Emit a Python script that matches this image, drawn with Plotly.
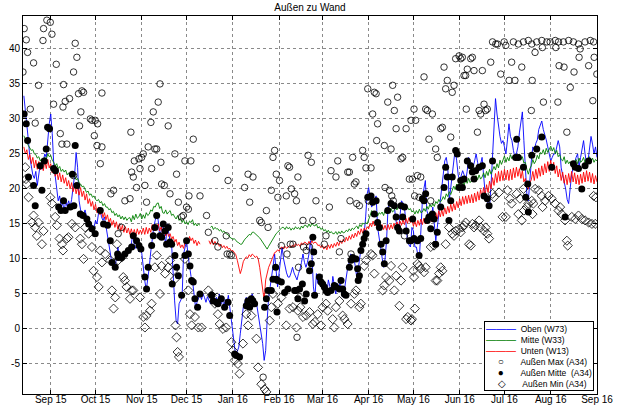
import pandas as pd
import plotly.graph_objects as go

# ---------------- data ----------------
BASE = pd.Timestamp("2015-09-01")          # day offsets below are relative to this date
LINE_START = "2015-08-14"                  # first daily value of the wall sensors (day -18)

# Oben (W73), daily values from 2015-08-14 to 2016-09-01
oben = [
    33.3, 31.5, 29.0, 27.0, 24.5, 23.0, 22.0, 21.5, 22.5, 20.5,
    22.0, 23.6, 22.8, 24.0, 25.0, 24.5, 27.0, 29.3, 30.7, 27.9,
    23.6, 21.5, 20.2, 18.3, 19.0, 17.4, 18.0, 16.8, 18.3, 17.5,
    18.3, 17.4, 18.5, 20.2, 22.0, 25.2, 23.1, 18.3, 17.0, 16.4,
    16.4, 17.0, 16.0, 15.8, 15.5, 15.0, 14.8, 14.5, 15.5, 15.0,
    16.5, 17.4, 16.0, 15.5, 16.0, 14.5, 13.6, 12.0, 10.7, 9.3,
    9.0, 8.8, 10.0, 11.7, 10.2, 10.7, 10.0, 10.5, 11.0, 10.5,
    11.0, 11.5, 12.1, 13.6, 12.0, 11.5, 12.2, 11.0, 11.5, 10.8,
    8.5, 6.9, 5.5, 7.0, 8.8, 11.0, 13.1, 14.5, 15.5, 16.4,
    15.5, 13.3, 14.0, 15.2, 13.5, 12.1, 15.0, 13.5, 12.6, 12.0,
    6.9, 4.0, 1.2, 0.7, 3.6, 4.0, 4.5, 10.7, 11.5, 12.6,
    10.5, 8.8, 7.5, 6.9, 5.0, 3.1, 3.8, 4.5, 5.0, 4.2,
    5.0, 4.5, 3.8, 4.6, 4.0, 3.6, 4.8, 4.0, 3.6, 4.5,
    4.0, 5.0, 3.5, 4.5, 3.0, 4.2, 3.5, 4.8, 3.0, 1.2,
    -0.5, -2.6, -4.0, -3.2, -2.6, -0.7, 1.5, 3.1, 3.8, 4.5,
    3.5, 3.6, 4.5, 5.0, 4.2, 4.0, 3.5, 2.1, 0.5, -1.0,
    -2.1, -4.5, -3.1, 1.2, 4.5, 6.0, 7.9, 9.0, 10.7, 8.8,
    6.0, 8.0, 10.2, 11.7, 10.0, 8.8, 8.0, 7.4, 7.4, 8.0,
    8.8, 8.0, 7.4, 7.0, 7.9, 8.5, 9.5, 10.7, 9.5, 8.8,
    9.5, 10.7, 12.6, 10.7, 6.0, 4.5, 7.9, 6.5, 6.9, 6.0,
    7.0, 5.5, 6.5, 5.0, 7.0, 6.0, 5.2, 7.5, 6.0, 5.0,
    6.5, 5.5, 7.0, 4.8, 4.5, 6.0, 7.5, 8.8, 9.5, 10.7,
    10.5, 10.2, 9.0, 7.4, 8.5, 10.5, 11.7, 12.5, 13.6, 16.0,
    19.3, 20.2, 18.5, 17.4, 17.8, 18.5, 19.0, 14.5, 13.0, 11.7,
    10.5, 8.8, 10.0, 12.6, 17.4, 18.0, 18.3, 18.0, 17.9, 16.0,
    14.5, 14.0, 16.0, 18.3, 18.0, 17.4, 15.0, 12.6, 12.0, 11.7,
    14.5, 14.0, 11.7, 11.7, 10.5, 10.2, 14.0, 18.3, 20.0, 21.2,
    16.9, 16.0, 15.5, 15.8, 17.4, 15.0, 12.6, 14.5, 16.4, 18.0,
    20.2, 22.0, 24.0, 24.5, 23.1, 18.3, 20.0, 22.1, 24.0, 25.7,
    24.0, 22.0, 21.2, 22.0, 22.6, 22.0, 21.2, 22.5, 24.5, 24.0,
    23.5, 23.1, 24.0, 25.0, 23.8, 22.6, 23.5, 24.5, 22.0, 19.5,
    18.5, 17.8, 17.4, 20.5, 24.5, 29.0, 32.9, 30.7, 28.8, 27.5,
    26.5, 26.9, 26.0, 25.0, 27.0, 29.3, 27.5, 26.9, 25.5, 24.5,
    25.0, 26.0, 28.0, 30.0, 31.0, 26.9, 23.6, 19.3, 18.3, 22.1,
    24.0, 26.0, 25.5, 26.5, 27.0, 28.5, 29.3, 29.7, 28.5, 27.9,
    27.0, 26.0, 25.0, 24.0, 24.5, 25.0, 25.0, 26.0, 26.9, 26.0,
    23.0, 22.0, 21.2, 20.0, 18.5, 17.9, 20.0, 22.1, 23.0, 24.0,
    24.5, 25.0, 23.1, 24.5, 25.5, 26.9, 25.0, 23.6, 24.0, 26.0,
    27.5, 26.4, 25.0, 26.0, 24.5,
]

# Mitte (W33), daily values
mitte = [
    27.6, 27.0, 26.6, 26.2, 25.9, 25.5, 25.6, 25.0, 24.9, 24.4,
    24.6, 24.0, 24.3, 23.9, 24.5, 24.2, 25.0, 24.6, 24.8, 24.1,
    23.8, 23.3, 23.6, 22.9, 23.2, 22.5, 22.8, 22.4, 22.7, 22.0,
    22.3, 21.8, 22.2, 21.7, 21.9, 21.3, 21.5, 20.9, 20.7, 20.3,
    20.4, 19.8, 19.5, 19.7, 19.1, 19.3, 18.8, 19.0, 18.5, 18.3,
    18.5, 18.0, 18.2, 17.6, 17.9, 17.4, 17.4, 17.0, 17.2, 16.6,
    16.8, 16.2, 16.5, 16.0, 16.3, 15.7, 16.1, 15.6, 16.0, 15.5,
    15.8, 15.9, 15.3, 16.2, 15.6, 16.4, 15.8, 16.0, 16.5, 15.7,
    16.3, 15.8, 16.6, 16.2, 16.4, 17.0, 16.8, 17.5, 17.4, 17.9,
    18.0, 17.2, 17.5, 16.6, 16.5, 17.0, 16.4, 16.7, 16.9, 16.2,
    16.4, 16.0, 15.7, 16.2, 15.5, 15.8, 15.2, 15.6, 15.0, 15.3,
    14.9, 15.4, 15.2, 15.6, 14.8, 15.1, 14.7, 15.0, 14.8, None,
    None, None, None, None, None, 14.5, 14.7, 14.2, 14.5, 14.3,
    14.3, 14.0, 14.2, 13.8, 14.0, 13.7, 13.6, 13.4, 13.1, 13.0,
    12.8, 12.9, 12.6, 12.4, 12.3, 12.1, 12.1, 12.5, 12.8, 13.0,
    13.2, 13.5, 13.4, 13.8, 13.8, 13.6, 13.5, 13.3, 13.0, 12.7,
    12.4, 12.1, 11.8, 11.4, 11.8, 12.2, 12.6, 13.0, 13.4, 13.6,
    13.8, 14.0, 14.3, 14.5, 14.5, 14.2, 14.6, 14.3, 14.5, 14.1,
    14.4, 14.2, 14.6, 14.3, 14.5, 14.2, 14.7, 14.4, 14.8, 14.8,
    14.5, 15.0, 14.6, 15.1, 14.8, 14.7, 15.0, 14.4, 14.6, 14.2,
    14.4, 14.0, 14.2, 13.8, 14.1, 13.7, 13.9, 13.6, 13.6, 13.9,
    13.5, 13.9, 13.6, 14.0, 13.7, 13.8, 14.1, 13.9, 14.3, 14.0,
    14.4, 14.2, 14.5, 14.7, 14.3, 14.9, 14.6, 15.1, 15.0, 15.2,
    15.0, 15.5, 16.2, 16.9, 16.5, 16.4, 16.8, 16.1, 16.6, 16.4,
    16.7, 16.2, 16.9, 16.5, 16.9, 16.6, 17.2, 16.7, 16.9, 17.3,
    17.0, 17.6, 17.6, 17.2, 17.8, 17.3, 17.7, 17.4, 17.0, 17.2,
    16.7, 16.9, 16.4, 16.9, 16.5, 17.1, 16.6, 16.7, 17.2, 16.8,
    17.5, 17.1, 17.8, 17.4, 17.9, 17.5, 18.2, 17.9, 18.5, 18.1,
    18.4, 18.9, 18.5, 19.3, 18.9, 19.6, 19.2, 19.8, 20.4, 19.9,
    20.7, 20.3, 21.1, 20.6, 21.0, 20.5, 21.4, 20.8, 21.5, 20.9,
    21.2, 21.8, 21.0, 21.9, 21.3, 22.0, 21.4, 21.7, 22.3, 21.6,
    22.5, 21.9, 22.8, 22.1, 22.6, 23.2, 22.7, 23.6, 23.0, 24.1,
    23.5, 24.0, 24.7, 23.8, 24.5, 24.0, 24.9, 24.3, 24.8, 24.1,
    24.9, 24.5, 25.0, 24.2, 24.6, 23.7, 23.8, 22.8, 22.1, 22.9,
    23.3, 24.2, 23.6, 24.0, 24.8, 24.3, 25.2, 25.0, 25.6, 24.9,
    25.8, 25.2, 25.7, 26.1, 25.4, 25.9, 25.0, 25.5, 24.6, 24.9,
    24.2, 24.0, 24.6, 23.6, 24.1, 23.6, 23.9, 23.2, 23.8, 23.6,
    24.2, 23.6, 24.4, 23.8, 24.0, 24.5, 23.7, 24.3, 24.0, 24.6,
    23.9, 24.4, 23.8, 24.2, 24.0,
]

# Unten (W13), daily values
unten = [
    26.0, 25.0, 25.6, 24.2, 24.9, 23.6, 24.5, 23.0, 24.1, 22.8,
    23.9, 22.7, 23.8, 22.6, 24.0, 22.9, 24.2, 23.0, 23.6, 22.3,
    23.1, 21.8, 22.6, 21.3, 22.3, 21.0, 22.0, 20.8, 21.6, 20.4,
    21.2, 20.0, 20.9, 19.6, 20.6, 19.3, 20.3, 19.1, 20.2, 18.9,
    19.7, 18.4, 19.3, 17.9, 18.6, 17.5, 18.2, 17.0, 17.8, 16.6,
    17.4, 16.3, 17.0, 15.9, 16.6, 15.6, 16.3, 15.2, 15.8, 14.8,
    15.5, 14.5, 15.3, 14.2, 15.0, 14.0, 14.8, 13.8, 14.6, 13.7,
    14.4, 13.5, 14.3, 13.4, 14.2, 13.3, 14.3, 13.5, 14.1, 13.6,
    14.4, 13.5, 14.5, 13.6, 14.4, 13.8, 14.9, 14.0, 14.8, 14.1,
    15.0, 14.0, 14.6, 13.6, 14.2, 13.3, 14.0, 13.2, 13.6, 12.8,
    13.2, 12.4, 12.8, 11.9, 12.4, 11.6, 12.0, 11.5, 12.4, 12.6,
    12.3, 13.2, 12.6, 13.0, 12.2, 12.7, 11.9, 12.5, 12.1, None,
    None, None, None, None, 12.6, 12.1, 12.8, 12.0, 12.5, 12.1,
    12.3, 11.8, 12.1, 11.6, 11.9, 11.5, 11.8, 11.4, 11.5, 11.1,
    11.2, 10.9, 10.6, 9.8, 8.8, 7.9, 8.6, 9.6, 10.0, 10.3,
    10.1, 10.6, 10.3, 10.7, 10.5, 10.2, 10.4, 10.0, 8.8, 7.0,
    5.6, 4.1, 7.0, 8.2, 8.8, 9.3, 9.9, 10.5, 10.9, 11.0,
    11.3, 11.1, 11.6, 11.7, 11.4, 11.8, 11.5, 11.7, 11.9, 11.6,
    12.0, 11.7, 12.2, 11.9, 12.1, 11.8, 12.3, 12.0, 12.4, 12.3,
    12.0, 12.5, 12.1, 12.6, 12.2, 12.4, 12.3, 11.9, 12.0, 11.6,
    11.9, 11.4, 11.8, 11.3, 12.0, 11.5, 12.1, 11.6, 12.2, 11.8,
    12.4, 11.9, 12.6, 12.2, 12.8, 12.4, 13.1, 12.6, 13.3, 12.8,
    13.5, 13.0, 13.7, 13.2, 14.0, 13.5, 14.3, 13.7, 14.4, 14.0,
    14.6, 14.3, 15.1, 14.6, 15.4, 14.7, 15.2, 14.4, 15.0, 14.3,
    14.9, 14.2, 14.8, 14.1, 14.9, 14.2, 14.9, 14.3, 15.1, 14.5,
    15.3, 14.6, 15.4, 14.8, 15.6, 14.9, 15.8, 15.1, 15.9, 15.2,
    15.6, 14.7, 15.4, 14.6, 15.5, 14.8, 15.7, 14.9, 15.8, 15.0,
    16.0, 15.1, 16.1, 15.3, 16.3, 15.4, 16.6, 15.7, 16.9, 16.0,
    17.0, 16.1, 17.3, 16.4, 17.5, 16.6, 17.8, 16.8, 17.9, 17.0,
    18.2, 17.3, 18.6, 17.6, 18.9, 17.8, 19.0, 17.9, 19.1, 18.0,
    19.2, 18.0, 19.4, 18.2, 19.6, 18.4, 19.9, 18.7, 20.2, 19.0,
    20.6, 19.5, 21.1, 20.0, 21.6, 20.5, 22.2, 20.9, 22.5, 21.1,
    22.6, 21.2, 22.8, 21.3, 22.7, 21.2, 22.8, 21.3, 23.0, 21.6,
    23.1, 21.8, 22.9, 21.5, 22.6, 21.0, 21.5, 20.2, 20.0, 20.9,
    21.3, 22.5, 21.2, 22.8, 21.5, 23.0, 21.8, 23.3, 22.0, 23.6,
    22.3, 23.9, 22.5, 24.1, 22.6, 23.8, 22.2, 23.3, 21.7, 22.8,
    21.2, 22.4, 20.8, 22.0, 20.6, 22.2, 20.9, 22.5, 21.0, 22.3,
    20.7, 22.0, 20.6, 22.1, 20.8, 22.4, 21.0, 22.6, 21.1, 22.4,
    20.9, 22.2, 20.7, 21.9, 21.0,
]

# Außen Max (A34): (day offset from 2015-09-01, value)
aussen_max = [
    (-18.6, 36.7), (-17.8, 42.9), (-16.4, 41.3), (-15.5, 39.5), (-13.7, 31.4),
    (-11.5, 38.0), (-10.4, 29.4), (-8.2, 34.8), (-5.2, 41.2), (-4.8, 42.9),
    (-2.6, 44.1), (-0.3, 43.8), (0.8, 42.1), (1.9, 32.1), (3.7, 37.8),
    (6.4, 27.9), (7.5, 26.4), (8.2, 31.7), (8.6, 34.9), (9.7, 32.5),
    (10.8, 26.4), (12.6, 32.9), (15.3, 36.7), (15.3, 21.9), (16.4, 40.8),
    (17.5, 38.8), (18.6, 33.6), (19.3, 29.0), (20.2, 31.0), (20.9, 34.0),
    (22.0, 33.8), (26.5, 30.0), (27.6, 29.8), (29.2, 27.6), (29.8, 29.8),
    (31.0, 26.2), (31.4, 29.3), (33.2, 23.6), (34.3, 26.0), (34.3, 33.7),
    (40.3, 19.3), (42.1, 19.8), (45.2, 13.6), (47.5, 14.5), (49.7, 18.3),
    (53.1, 18.6), (53.7, 28.1), (54.2, 22.4), (55.3, 21.7), (56.0, 24.0),
    (57.5, 20.2), (59.1, 24.3), (59.8, 22.9), (60.9, 24.5), (62.0, 25.0),
    (63.1, 20.5), (64.2, 18.1), (65.3, 26.0), (67.1, 29.5), (67.6, 22.9),
    (68.7, 31.0), (69.8, 25.7), (71.0, 25.7), (72.0, 32.4), (73.2, 35.0),
    (73.8, 23.8), (74.3, 20.7), (76.1, 20.5), (78.7, 29.0), (79.9, 19.3),
    (83.2, 25.0), (84.3, 22.1), (85.5, 18.1), (87.7, 16.0), (88.8, 16.2),
    (89.9, 24.0), (91.0, 17.4), (92.2, 17.1), (92.6, 19.0), (93.9, 24.0),
    (95.5, 27.1), (100.0, 19.0), (104.4, 16.2), (105.6, 13.8), (110.0, 12.6),
    (110.9, 22.9), (112.0, 11.7), (117.6, 13.3), (118.2, 10.7), (118.8, 21.2),
    (119.9, 10.7), (121.0, 10.5), (129.9, 20.2), (132.2, 22.1), (133.3, 18.1),
    (135.5, 21.7), (140.0, 15.5), (141.1, 15.2), (142.3, -6.9), (144.5, 16.9),
    (145.6, 14.5), (147.8, 19.8), (148.9, 24.5), (150.0, 25.5), (151.1, 22.1),
    (152.2, 18.8), (153.3, 21.2), (154.5, 11.9), (157.8, 19.0), (158.3, 10.7),
    (158.9, 23.3), (160.0, 23.1), (160.5, 12.1), (161.2, 20.0), (162.3, 12.1),
    (163.4, 19.3), (164.6, 18.3), (165.0, -1.2), (165.6, 21.7), (166.0, 8.8),
    (169.0, 15.5), (169.4, 11.7), (171.2, 11.2), (172.4, 24.8), (173.4, 11.7),
    (174.6, 23.8), (175.6, 15.5), (177.7, 18.3), (183.3, 12.1), (184.4, 13.3),
    (186.7, 17.4), (187.8, 22.6), (191.1, 21.7), (192.3, 24.0), (193.4, 11.0),
    (194.5, 12.9), (199.0, 22.4), (200.1, 22.4), (200.5, 18.3), (201.2, 10.7),
    (202.3, 24.5), (203.4, 20.7), (204.5, 21.0), (205.0, 17.9), (206.8, 17.6),
    (209.0, 25.5), (210.0, 24.5), (211.2, 23.0), (212.4, 34.3), (212.8, 18.3),
    (214.6, 23.0), (215.7, 30.7), (216.8, 33.8), (218.0, 33.6), (218.4, 26.9),
    (219.0, 29.3), (223.5, 26.2), (224.0, 20.2), (225.8, 32.4), (226.9, 19.8),
    (228.0, 25.7), (228.5, 19.0), (229.1, 34.8), (229.5, 18.3), (230.2, 31.2),
    (231.4, 28.6), (232.4, 33.1), (234.7, 24.3), (235.8, 24.5), (237.0, 13.3),
    (238.1, 28.6), (240.3, 21.4), (241.4, 29.8), (242.3, 21.4), (243.4, 31.4),
    (243.8, 19.0), (244.5, 29.8), (245.7, 21.9), (246.8, 18.8), (247.9, 21.7),
    (250.1, 36.0), (251.2, 31.4), (252.3, 31.2), (253.4, 27.1), (254.6, 18.3),
    (255.7, 30.7), (257.9, 25.7), (259.0, 24.5), (261.3, 28.6), (262.4, 28.8),
    (263.5, 37.4), (264.6, 34.3), (265.7, 35.5), (268.0, 27.4), (269.0, 33.8),
    (270.2, 34.8), (271.3, 38.6), (273.6, 39.0), (274.7, 38.6), (275.8, 38.8),
    (276.9, 36.2), (278.0, 36.2), (278.4, 31.4), (279.1, 37.1), (281.4, 38.6),
    (282.5, 38.8), (283.6, 36.9), (285.9, 28.1), (287.0, 31.2), (288.1, 30.7),
    (289.2, 36.9), (290.3, 32.1), (291.4, 31.2), (292.5, 31.4), (294.8, 38.1),
    (296.0, 41.0), (298.2, 40.7), (299.3, 40.7), (301.5, 36.4), (303.8, 41.0),
    (304.9, 40.5), (307.1, 35.5), (308.8, 38.1), (310.0, 41.0), (311.0, 35.5),
    (313.3, 40.7), (315.6, 37.4), (316.7, 41.0), (320.0, 41.2), (322.0, 31.2),
    (322.3, 40.7), (322.6, 35.5), (324.5, 39.5), (325.6, 41.0), (329.0, 41.2),
    (329.4, 40.2), (330.1, 32.4), (332.4, 41.0), (334.6, 41.0), (338.0, 41.2),
    (338.4, 40.2), (339.8, 32.4), (340.2, 41.0), (340.6, 37.6), (343.5, 41.0),
    (343.9, 37.4), (345.8, 28.1), (347.0, 41.2), (348.1, 34.5), (350.2, 41.0),
    (350.6, 36.7), (353.6, 40.7), (354.0, 38.8), (354.7, 40.0), (358.0, 41.0),
    (360.4, 37.6), (361.5, 41.2), (363.2, 32.6), (363.7, 41.0), (364.1, 38.8),
    (365.9, 36.4),
]

# Außen Mitte (A34)
aussen_mitte = [
    (-17.8, 30.7), (-16.4, 29.3), (-15.5, 26.9), (-14.9, 21.7), (-11.5, 20.5),
    (-10.4, 17.6), (-7.0, 23.3), (-5.9, 19.8), (-4.3, 24.0), (-3.0, 25.7),
    (-2.1, 28.8), (-0.8, 28.6), (1.9, 22.9), (3.2, 22.6), (5.3, 17.4),
    (6.8, 16.9), (8.6, 18.3), (9.7, 16.9), (13.1, 17.4), (14.5, 22.1),
    (15.5, 17.6), (16.4, 26.2), (17.5, 20.5), (19.8, 16.4), (21.6, 16.2),
    (24.2, 15.7), (25.4, 15.0), (27.6, 14.3), (29.8, 13.6), (33.2, 16.9),
    (35.4, 15.0), (38.1, 14.8), (39.9, 12.6), (41.0, 9.5), (43.2, 8.8),
    (44.8, 10.7), (45.2, 10.2), (47.5, 10.2), (49.7, 10.7), (52.0, 11.2),
    (54.2, 11.7), (55.3, 13.3), (57.5, 12.6), (59.1, 11.9), (60.4, 11.4),
    (63.1, 7.4), (64.2, 5.7), (65.3, 8.8), (67.6, 11.9), (68.7, 13.3),
    (69.8, 14.5), (71.0, 16.2), (73.2, 13.3), (74.3, 13.1), (75.4, 15.0),
    (76.6, 14.0), (77.6, 12.1), (78.7, 14.5), (79.9, 12.4), (81.0, 12.1),
    (81.4, 6.4), (83.2, 10.5), (84.3, 8.8), (85.5, 7.6), (87.7, 4.8),
    (89.9, 10.5), (91.0, 12.6), (92.2, 10.7), (93.3, 9.0), (94.4, 6.9),
    (95.5, 6.7), (96.6, 4.3), (98.4, 3.1), (100.0, 5.0), (107.8, 4.8),
    (108.9, 4.0), (111.2, 3.8), (112.0, 3.6), (114.3, 4.3), (116.5, 3.1),
    (118.8, 3.8), (119.9, 1.9), (123.2, -3.6), (124.3, -3.8), (126.5, -4.0),
    (131.0, 3.3), (132.1, 4.0), (133.3, 3.1), (134.4, 4.3), (135.5, 4.0),
    (136.6, 3.6), (143.3, 3.1), (144.5, 4.3), (145.6, 5.5), (147.8, 5.5),
    (148.9, 7.1), (150.7, 8.8), (151.1, 7.1), (151.6, 2.4), (152.2, 6.9),
    (154.5, 6.7), (156.7, 5.2), (158.9, 5.7), (163.4, 5.5), (164.6, 5.5),
    (165.6, 4.3), (166.7, 5.7), (168.6, 6.4), (170.1, 4.0), (171.2, 5.0),
    (173.4, 8.3), (174.6, 9.3), (175.6, 13.1), (176.2, 11.0), (176.8, 4.8),
    (180.0, 7.4), (181.1, 6.7), (182.2, 6.4), (183.3, 6.0), (184.4, 5.5),
    (185.5, 5.2), (187.8, 5.5), (190.0, 6.2), (191.1, 6.0), (193.4, 5.7),
    (194.5, 6.9), (195.6, 5.7), (196.7, 5.0), (197.8, 4.8), (200.1, 8.8),
    (201.2, 9.8), (202.3, 10.2), (204.5, 10.0), (205.6, 8.6), (206.0, 6.9),
    (206.8, 7.6), (207.8, 11.2), (209.0, 12.1), (210.0, 12.9), (211.2, 13.6),
    (212.4, 18.8), (214.6, 19.0), (215.7, 18.1), (216.8, 16.4), (218.0, 18.3),
    (219.0, 15.2), (220.2, 14.5), (221.3, 12.1), (222.4, 11.0), (223.5, 9.3),
    (224.7, 12.6), (225.8, 16.9), (228.0, 17.9), (230.2, 17.6), (231.4, 16.0),
    (232.4, 14.5), (233.6, 14.0), (234.7, 17.6), (235.8, 16.0), (237.0, 17.4),
    (238.1, 14.0), (240.3, 12.6), (241.4, 12.6), (242.5, 15.7), (243.4, 12.9),
    (245.7, 12.6), (246.8, 10.5), (247.9, 12.9), (249.0, 18.6), (250.1, 18.3),
    (251.2, 19.3), (252.3, 15.5), (253.4, 16.0), (254.6, 14.3), (255.7, 16.4),
    (256.8, 15.7), (257.9, 12.1), (259.0, 13.8), (261.3, 17.4), (263.5, 20.2),
    (264.6, 23.1), (265.7, 21.7), (266.8, 15.5), (268.0, 18.3), (269.0, 21.7),
    (271.3, 25.5), (272.4, 25.0), (273.6, 20.2), (274.7, 21.2), (275.8, 20.2),
    (276.9, 21.4), (279.1, 24.0), (281.4, 23.3), (282.5, 22.4), (283.6, 21.4),
    (284.7, 22.6), (287.0, 23.1), (289.2, 23.3), (290.3, 19.0), (292.5, 18.6),
    (293.7, 17.6), (296.0, 24.0), (311.5, 24.5), (312.2, 27.1), (313.3, 24.5),
    (316.7, 23.1), (318.2, 18.8), (319.6, 20.7), (320.0, 16.7), (322.3, 24.8),
    (325.6, 25.7), (329.0, 27.4), (335.7, 23.1), (344.6, 16.0), (350.2, 23.6),
    (351.4, 23.1), (353.6, 22.9), (355.8, 20.0), (358.0, 23.3), (360.4, 24.0),
]

# Außen Min (A34)
aussen_min = [
    (-17.1, 23.1), (-16.6, 21.4), (-16.0, 20.7), (-14.9, 18.8), (-12.6, 15.2),
    (-11.5, 16.2), (-10.4, 14.5), (-9.3, 13.3), (-8.2, 15.2), (-5.9, 12.1),
    (-4.8, 14.0), (-0.3, 18.8), (0.8, 17.9), (3.0, 16.0), (4.1, 14.8),
    (5.9, 12.9), (7.5, 12.1), (8.2, 11.2), (10.8, 12.9), (11.9, 13.1),
    (14.2, 15.0), (16.4, 14.5), (19.8, 12.9), (20.9, 12.1), (22.0, 10.0),
    (23.1, 14.5), (25.4, 13.6), (27.6, 11.7), (28.7, 8.3), (31.0, 7.4),
    (32.1, 6.0), (33.2, 11.2), (34.3, 9.5), (36.5, 10.7), (39.9, 9.8),
    (41.0, 5.5), (42.1, 2.9), (43.2, 4.5), (44.4, 12.1), (45.2, 9.8),
    (47.5, 10.2), (48.6, 7.4), (49.7, 6.9), (50.8, 6.0), (53.1, 4.3),
    (54.2, 5.5), (55.3, 5.5), (59.8, 4.5), (62.0, 1.7), (63.1, 0.2),
    (64.2, 1.9), (66.5, 2.6), (67.6, 3.6), (69.8, 8.8), (71.0, 10.5),
    (73.2, 5.0), (74.3, 9.0), (76.6, 7.9), (78.7, 8.8), (79.9, 9.8),
    (82.1, 8.3), (83.2, 7.1), (83.6, 0.5), (84.3, -1.2), (85.0, -3.3),
    (85.9, -4.0), (89.9, 10.0), (92.2, 5.5), (93.3, 2.1), (94.4, 0.5),
    (96.6, 1.7), (98.9, 0.2), (101.1, 0.2), (105.6, 5.5), (107.8, 4.8),
    (110.0, 3.6), (111.5, 4.5), (112.0, 2.1), (113.2, 0.7), (115.4, 0.0),
    (117.6, 0.2), (121.0, -1.9), (122.1, -3.1), (123.2, -4.5), (125.4, -5.0),
    (126.5, -6.4), (128.8, -2.1), (131.0, 2.1), (132.2, 0.5), (134.4, 1.9),
    (137.8, -1.4), (138.9, -5.5), (141.1, -7.9), (143.3, -8.6), (144.5, -9.0),
    (146.7, 1.2), (147.8, 3.1), (148.9, 5.0), (152.2, 3.6), (154.5, 4.5),
    (157.8, 0.5), (160.0, 2.9), (162.3, 3.1), (164.6, 0.2), (165.6, 2.6),
    (166.7, 4.5), (167.2, 3.1), (169.0, 1.7), (171.2, 1.9), (173.4, 2.4),
    (175.6, 0.7), (177.0, 1.0), (178.8, 2.1), (181.1, 0.5), (182.2, 3.1),
    (184.4, 3.6), (185.5, 2.6), (188.9, 1.4), (190.0, 0.2), (191.1, 3.1),
    (193.4, 4.0), (195.6, 1.9), (196.7, 1.4), (198.9, 0.7), (201.2, 3.6),
    (203.4, 5.0), (204.5, 5.5), (206.8, 3.1), (207.8, 3.6), (210.0, 9.0),
    (211.2, 9.8), (214.6, 10.7), (215.7, 10.5), (216.8, 7.9), (222.4, 5.5),
    (223.5, 6.2), (224.7, 7.4), (226.9, 6.9), (228.0, 9.0), (230.2, 5.5),
    (231.4, 7.6), (233.6, 3.3), (234.7, 6.9), (235.8, 8.8), (238.1, 1.4),
    (239.2, 1.7), (241.4, 1.2), (242.0, 1.4), (242.8, 8.3), (243.4, 7.4),
    (244.0, 2.9), (245.7, 9.3), (246.8, 9.0), (247.9, 8.6), (250.1, 8.1),
    (251.2, 8.8), (254.6, 11.7), (256.8, 11.9), (257.9, 6.9), (259.0, 6.9),
    (260.2, 7.9), (261.3, 8.8), (262.4, 8.3), (264.6, 12.1), (266.8, 14.5),
    (269.0, 13.6), (270.2, 13.3), (271.3, 14.0), (273.6, 14.3), (274.7, 13.8),
    (275.8, 14.5), (276.9, 14.8), (278.0, 15.2), (280.3, 12.1), (281.4, 11.9),
    (282.5, 15.0), (283.6, 14.5), (284.7, 14.8), (287.0, 15.5), (288.1, 14.5),
    (290.3, 14.0), (291.4, 14.5), (292.5, 13.6), (293.7, 12.9), (296.0, 19.3),
    (297.0, 18.8), (300.4, 19.5), (302.7, 16.0), (304.9, 16.0), (306.0, 19.8),
    (307.7, 18.6), (308.8, 17.9), (312.2, 19.3), (313.3, 16.4), (314.4, 18.6),
    (315.6, 15.5), (316.7, 20.0), (317.0, 16.9), (318.9, 17.4), (320.0, 17.9),
    (322.3, 18.3), (322.8, 16.4), (323.4, 17.9), (324.5, 20.0), (326.8, 19.8),
    (329.0, 19.0), (329.5, 17.4), (331.2, 18.3), (333.5, 19.0), (335.7, 18.6),
    (337.9, 17.9), (340.2, 16.9), (341.3, 17.4), (342.4, 16.4), (344.6, 15.5),
    (345.8, 12.6), (346.4, 11.9), (349.1, 16.0), (351.4, 15.7), (353.6, 16.2),
    (355.8, 15.7), (358.0, 15.5), (360.4, 15.2), (362.6, 15.0), (363.7, 19.0),
    (364.8, 15.0), (365.3, 18.8),
]

month_ticks = ["2015-09-01", "2015-10-01", "2015-11-01", "2015-12-01", "2016-01-01",
               "2016-02-01", "2016-03-01", "2016-04-01", "2016-05-01", "2016-06-01",
               "2016-07-01", "2016-08-01", "2016-09-01"]
month_labels = ["Sep 15", "Oct 15", "Nov 15", "Dec 15", "Jan 16", "Feb 16", "Mar 16",
                "Apr 16", "May 16", "Jun 16", "Jul 16", "Aug 16", "Sep 16"]
y_ticks = [-5, 0, 5, 10, 15, 20, 25, 30, 35, 40]
y_labels = ["-5", "0", "5", "10", "15", "20", "25", "30", "35", "40"]

title_text = "Außen zu Wand"
names = ["Oben (W73)", "Mitte (W33)", "Unten (W13)",
         "Außen Max (A34)", "Außen Mitte  (A34)", "Außen Min (A34)"]
colors = ["#0000ff", "#008000", "#ff0000"]

# ---------------- figure ----------------
days = pd.date_range(LINE_START, periods=len(oben), freq="D")


def to_xy(pts):
    d, v = zip(*pts)
    return [BASE + pd.Timedelta(days=x) for x in d], list(v)


fig = go.Figure()
for vals, nm, col in zip([oben, mitte, unten], names[:3], colors):
    fig.add_trace(go.Scatter(x=days, y=vals, mode="lines", name=nm, showlegend=False,
                             line=dict(color=col, width=0.9)))

mx, my = to_xy(aussen_max)
fig.add_trace(go.Scatter(x=mx, y=my, mode="markers", name=names[3], showlegend=False,
                         marker=dict(symbol="circle-open", size=6.5, color="#000000",
                                     line=dict(width=0.8, color="#000000"))))
cx, cy = to_xy(aussen_mitte)
fig.add_trace(go.Scatter(x=cx, y=cy, mode="markers", name=names[4], showlegend=False,
                         marker=dict(symbol="circle", size=7, color="#000000")))
nx, ny = to_xy(aussen_min)
fig.add_trace(go.Scatter(x=nx, y=ny, mode="markers", name=names[5], showlegend=False,
                         marker=dict(symbol="diamond-open", size=7, color="#000000",
                                     line=dict(width=0.8, color="#000000"))))

# legend box as text (compact, MATLAB-like)
NB = "\u00a0"
sym_line = "\u2014\u2014\u2014"


def line_row(col, label):
    return (f"<span style='color:{col};font-size:10px'>{sym_line}</span>"
            f"{NB*2}{label}")


def mark_row(sym, label):
    return (f"{NB*5}<span style='font-size:10px'>{sym}</span>{NB*7}{label}")


legend_rows = [
    line_row(colors[0], names[0]),
    line_row(colors[1], names[1]),
    line_row(colors[2], names[2]),
    mark_row("\u25cb", names[3]),
    mark_row("\u25cf", names[4].replace("  ", NB + " ")),
    mark_row("\u25c7", names[5]),
]

font_family = "Liberation Sans, Arial, Helvetica, sans-serif"
axis_common = dict(showline=True, linecolor="#000000", linewidth=1, mirror="ticks",
                   ticks="inside", ticklen=4, tickcolor="#000000", tickwidth=1,
                   showgrid=True, gridcolor="#8a8a8a", griddash="dot", gridwidth=1,
                   zeroline=False, automargin=False, ticklabeloverflow="allow",
                   tickfont=dict(size=10, color="#000000", family=font_family))

fig.update_layout(
    width=619, height=406, autosize=False,
    margin=dict(l=23, r=22, t=16, b=12, pad=0),
    paper_bgcolor="#ffffff", plot_bgcolor="#ffffff",
    font=dict(family=font_family, size=10, color="#000000"),
    title=dict(text=title_text, x=0.5, xref="paper", xanchor="center",
               y=1 - 7.5 / 406, yref="container", yanchor="middle",
               font=dict(size=10, color="#000000")),
    showlegend=False,
    annotations=[dict(
        text="<br>".join(legend_rows), xref="paper", yref="paper",
        x=0.995, y=0.008, xanchor="right", yanchor="bottom", align="left",
        showarrow=False, bgcolor="#ffffff", bordercolor="#000000", borderwidth=1,
        borderpad=1, font=dict(size=8.5, color="#000000", family=font_family),
    )],
)
fig.update_xaxes(type="date", range=["2015-08-13 10:00", "2016-09-01"],
                 tickmode="array", tickvals=month_ticks, ticktext=month_labels,
                 ticklabelstandoff=-4, **axis_common)
fig.update_yaxes(range=[-9.3, 44.7], tickmode="array", tickvals=y_ticks,
                 ticktext=y_labels, **axis_common)

fig.write_html("out.html", config={"displayModeBar": False},
               post_script="document.body.style.margin='0px';")
